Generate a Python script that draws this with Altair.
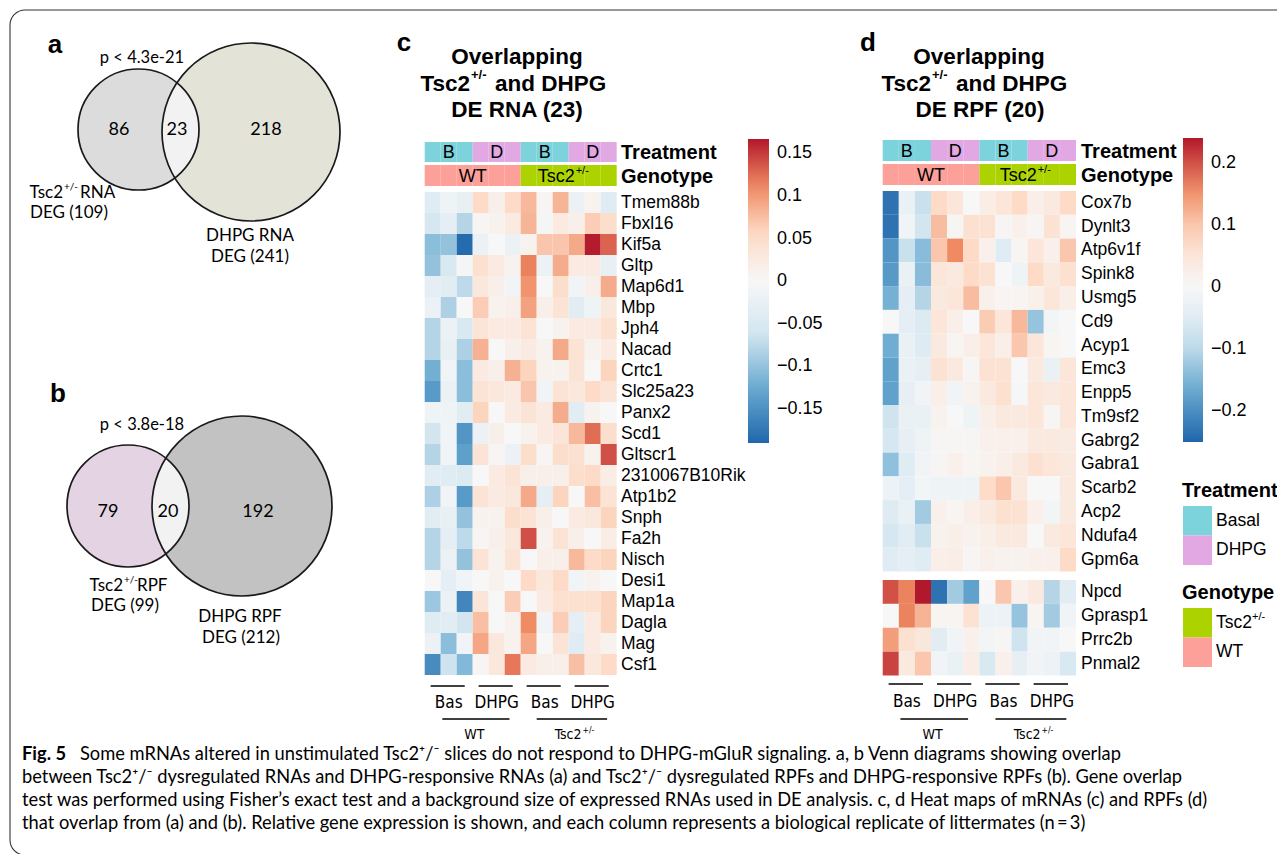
import math
import altair as alt
import pandas as pd

# ------------------------------------------------------------------ data
treatment_per_col = ["Basal"] * 3 + ["DHPG"] * 3 + ["Basal"] * 3 + ["DHPG"] * 3
genotype_per_col = ["WT"] * 6 + ["Tsc2"] * 6
treatment_abbrev = ["B", "D", "B", "D"]
group_mid_col = [1, 4, 7, 10]
below_labels = ["Bas", "DHPG", "Bas", "DHPG"]

venn_a_counts = ["86", "23", "218"]
venn_b_counts = ["79", "20", "192"]
venn_a_p = "p < 4.3e-21"
venn_b_p = "p < 3.8e-18"

rna_genes = ["Tmem88b", "Fbxl16", "Kif5a", "Gltp", "Map6d1", "Mbp", "Jph4", "Nacad",
             "Crtc1", "Slc25a23", "Panx2", "Scd1", "Gltscr1", "2310067B10Rik", "Atp1b2",
             "Snph", "Fa2h", "Nisch", "Desi1", "Map1a", "Dagla", "Mag", "Csf1"]
rna_values = [
    [-0.040, -0.015, -0.025, 0.055, 0.015, 0.055, 0.080, 0.005, 0.082, -0.020, 0.010, -0.040],
    [-0.055, -0.030, -0.080, 0.005, 0.010, 0.025, 0.082, -0.005, 0.025, 0.015, 0.065, 0.050],
    [-0.105, -0.100, -0.185, -0.020, 0.000, -0.020, 0.010, 0.070, 0.070, 0.090, 0.165, 0.130],
    [-0.100, -0.050, -0.005, 0.045, 0.025, 0.010, 0.115, -0.020, 0.088, 0.025, 0.025, -0.025],
    [-0.030, -0.035, -0.075, 0.030, 0.015, -0.010, 0.105, 0.000, 0.050, -0.010, 0.015, 0.088],
    [-0.020, -0.085, 0.000, 0.065, 0.010, 0.015, 0.095, 0.015, 0.040, -0.035, -0.015, 0.030],
    [-0.080, -0.020, -0.050, 0.035, 0.025, 0.025, 0.040, 0.000, 0.010, 0.025, 0.025, 0.045],
    [-0.080, -0.025, -0.085, 0.085, 0.000, 0.015, 0.025, 0.010, 0.090, 0.040, 0.010, 0.025],
    [-0.120, -0.010, -0.105, 0.025, 0.015, 0.085, 0.060, 0.010, 0.010, 0.040, 0.000, 0.060],
    [-0.140, -0.020, -0.105, 0.040, 0.030, 0.025, 0.070, -0.010, 0.040, 0.030, 0.055, 0.040],
    [-0.015, -0.015, -0.035, 0.060, 0.000, 0.025, 0.040, 0.025, 0.088, -0.035, 0.010, 0.000],
    [-0.060, -0.010, -0.145, -0.020, 0.015, 0.000, 0.010, 0.025, 0.035, 0.080, 0.125, 0.050],
    [-0.080, -0.010, -0.135, 0.040, 0.005, -0.020, 0.050, 0.005, 0.050, 0.045, 0.010, 0.140],
    [-0.035, -0.040, -0.045, 0.000, 0.025, 0.040, 0.015, 0.015, 0.015, 0.050, 0.055, 0.020],
    [-0.085, -0.010, -0.140, 0.040, 0.025, 0.030, 0.090, -0.030, 0.060, 0.000, 0.075, 0.040],
    [-0.035, -0.025, -0.100, 0.010, 0.010, 0.050, 0.040, 0.015, 0.000, 0.025, 0.030, 0.060],
    [-0.080, -0.030, -0.075, 0.005, 0.015, 0.030, 0.140, 0.010, 0.040, 0.015, 0.000, 0.020],
    [-0.080, -0.020, -0.100, 0.040, 0.010, 0.040, 0.000, 0.015, 0.015, 0.080, 0.055, 0.060],
    [0.000, -0.030, -0.010, 0.000, 0.010, 0.000, 0.055, 0.030, 0.055, -0.010, 0.010, 0.000],
    [-0.095, -0.020, -0.160, 0.035, 0.000, 0.065, 0.000, 0.025, 0.045, 0.045, 0.045, 0.060],
    [-0.040, -0.035, -0.060, 0.075, 0.000, 0.010, 0.110, -0.010, 0.065, -0.030, 0.025, 0.060],
    [-0.020, -0.105, -0.010, 0.092, 0.030, 0.010, 0.092, 0.000, 0.040, -0.040, 0.025, 0.010],
    [-0.155, -0.065, -0.110, 0.005, 0.030, 0.120, 0.025, 0.015, 0.015, 0.075, 0.030, 0.055],
]

rpf_genes_top = ["Cox7b", "Dynlt3", "Atp6v1f", "Spink8", "Usmg5", "Cd9", "Acyp1", "Emc3",
                 "Enpp5", "Tm9sf2", "Gabrg2", "Gabra1", "Scarb2", "Acp2", "Ndufa4", "Gpm6a"]
rpf_values_top = [
    [-0.235, -0.030, -0.090, 0.080, 0.050, 0.000, 0.030, 0.050, 0.080, 0.025, 0.040, 0.080],
    [-0.235, -0.015, -0.080, 0.110, 0.005, 0.065, 0.060, 0.005, 0.020, 0.005, 0.060, 0.010],
    [-0.190, -0.090, -0.140, 0.100, 0.160, 0.080, 0.020, -0.050, 0.010, 0.050, 0.020, 0.100],
    [-0.185, -0.030, -0.140, 0.050, 0.040, 0.080, 0.060, 0.000, -0.020, 0.080, 0.040, 0.065],
    [-0.155, -0.040, -0.105, 0.040, 0.050, 0.110, 0.020, 0.010, 0.010, 0.020, 0.050, 0.025],
    [0.000, -0.040, -0.060, 0.050, 0.025, 0.000, 0.095, 0.050, 0.115, -0.130, -0.010, 0.000],
    [-0.160, -0.030, -0.055, 0.040, 0.010, 0.025, 0.050, 0.025, 0.100, 0.050, 0.010, 0.000],
    [-0.175, -0.030, -0.035, 0.060, 0.040, 0.005, 0.060, 0.060, 0.000, 0.040, -0.030, 0.050],
    [-0.175, -0.035, -0.015, 0.025, -0.015, 0.015, 0.040, 0.065, -0.005, 0.050, 0.040, 0.050],
    [-0.085, -0.030, -0.030, 0.015, 0.000, -0.020, 0.025, 0.040, 0.040, 0.050, 0.005, 0.050],
    [-0.075, -0.035, -0.020, 0.005, 0.005, 0.005, 0.020, 0.020, 0.020, 0.040, 0.040, 0.035],
    [-0.135, -0.050, -0.015, 0.005, 0.020, 0.010, 0.015, 0.025, 0.040, 0.065, 0.050, 0.040],
    [-0.025, -0.040, -0.010, -0.020, -0.020, -0.020, 0.075, 0.100, 0.040, 0.000, 0.000, 0.040],
    [-0.055, -0.030, -0.120, 0.020, 0.010, 0.025, 0.040, 0.065, 0.060, 0.020, -0.010, 0.040],
    [-0.075, -0.045, -0.090, 0.015, 0.025, 0.015, 0.025, 0.040, 0.040, 0.000, 0.040, 0.050],
    [-0.050, -0.040, -0.050, 0.025, 0.030, 0.005, 0.020, 0.015, 0.015, 0.020, 0.020, 0.080],
]
rpf_genes_bottom = ["Npcd", "Gprasp1", "Prrc2b", "Pnmal2"]
rpf_values_bottom = [
    [0.200, 0.165, 0.240, -0.235, -0.120, -0.175, 0.000, 0.100, 0.020, 0.040, -0.105, -0.045],
    [0.000, 0.165, 0.120, 0.010, 0.010, 0.060, -0.025, -0.025, -0.130, 0.010, -0.120, -0.015],
    [0.140, 0.065, 0.045, -0.045, -0.015, 0.020, -0.010, 0.005, -0.085, -0.015, -0.015, 0.000],
    [0.210, 0.040, 0.100, -0.015, -0.030, 0.030, -0.065, 0.020, -0.035, -0.015, -0.025, -0.065],
]

rna_color_ticks = [-0.15, -0.1, -0.05, 0, 0.05, 0.1, 0.15]
rpf_color_ticks = [-0.2, -0.1, 0, 0.1, 0.2]
rna_color_extent = [-0.19, 0.167]
rpf_color_extent = [-0.25, 0.24]

legend_treatment = ["Basal", "DHPG"]
legend_genotype = ["Tsc2", "WT"]

caption_first = "Fig. 5"
caption_lines = [
    "Some mRNAs altered in unstimulated Tsc2\u207a/\u207b slices do not respond to DHPG-mGluR signaling. a, b Venn diagrams showing overlap",
    "between Tsc2\u207a/\u207b dysregulated RNAs and DHPG-responsive RNAs (a) and Tsc2\u207a/\u207b dysregulated RPFs and DHPG-responsive RPFs (b). Gene overlap",
    "test was performed using Fisher\u2019s exact test and a background size of expressed RNAs used in DE analysis. c, d Heat maps of mRNAs (c) and RPFs (d)",
    "that overlap from (a) and (b). Relative gene expression is shown, and each column represents a biological replicate of littermates (n\u2009=\u20093)",
]

# ------------------------------------------------------------------ style / layout
OFF = 8
W, H = 1269, 846
F_HEAT = "Liberation Sans, Arial, sans-serif"
F_VENN = "Lato, Noto Sans, sans-serif"
F_NARROW = "Liberation Sans Narrow, DejaVu Sans Condensed, sans-serif"
F_CAP = "Lato, Noto Sans, sans-serif"
RDBU = ["#2166ac", "#67a9cf", "#d1e5f0", "#f7f7f7", "#fddbc7", "#ef8a62", "#b2182b"]
C_BAS, C_DHPG, C_TSC, C_WT = "#7dd3dc", "#e1a8e3", "#acd300", "#fda09a"
COLS = list(range(12))


def P(v):
    return v - OFF


def one():
    return pd.DataFrame({"k": [0]})


def txt(s, x, y, size, font=F_HEAT, weight="normal", align="left", style="normal", color="black"):
    return alt.Chart(pd.DataFrame({"t": [s]})).mark_text(
        align=align, baseline="middle", font=font, fontSize=size,
        fontWeight=weight, fontStyle=style, color=color,
    ).encode(x=alt.value(P(x)), y=alt.value(P(y)), text="t:N")


def rule(x1, x2, y, color="black", width=1.6):
    return alt.Chart(one()).mark_rule(color=color, strokeWidth=width).encode(
        x=alt.value(P(x1)), x2=alt.value(P(x2)), y=alt.value(P(y)))


def piecewise(ext):
    lo, hi = ext
    return [lo, lo * 2 / 3, lo / 3, 0, hi / 3, hi * 2 / 3, hi]


layers = []

# border
layers.append(alt.Chart(one()).mark_rect(fill="transparent", stroke="#333333", strokeWidth=1.1,
                                         cornerRadius=15).encode(
    x=alt.value(P(10)), x2=alt.value(P(1330)), y=alt.value(P(10)), y2=alt.value(P(855))))


# ------------------------------------------------------------------ Venn diagrams
def circle(cx, cy, r, fill=None, outline=False):
    if outline:
        m = alt.Chart(one()).mark_point(shape="circle", filled=False, fill="transparent",
                                        stroke="#1a1a1a", strokeWidth=1.7, size=(2 * r) ** 2, opacity=1)
    else:
        m = alt.Chart(one()).mark_point(shape="circle", filled=True, fill=fill, strokeWidth=0,
                                        size=(2 * r) ** 2, opacity=1)
    return m.encode(x=alt.value(P(cx)), y=alt.value(P(cy)))


def lens(c1, c2, fill):
    (x1, y1, r1), (x2, y2, r2) = c1, c2
    d = math.hypot(x2 - x1, y2 - y1)
    a = (r1 ** 2 - r2 ** 2 + d ** 2) / (2 * d)
    h = math.sqrt(max(r1 ** 2 - a ** 2, 0))
    ux, uy = (x2 - x1) / d, (y2 - y1) / d
    mx, my = x1 + a * ux, y1 + a * uy
    pA = (mx - h * uy, my + h * ux)
    pB = (mx + h * uy, my - h * ux)

    def arc(cx, cy, r, p, q, n=48):
        t1 = math.atan2(p[1] - cy, p[0] - cx)
        t2 = math.atan2(q[1] - cy, q[0] - cx)
        dt = t2 - t1
        while dt > math.pi:
            dt -= 2 * math.pi
        while dt < -math.pi:
            dt += 2 * math.pi
        return [(cx + r * math.cos(t1 + dt * k / n), cy + r * math.sin(t1 + dt * k / n)) for k in range(n + 1)]

    pts = arc(x1, y1, r1, pA, pB) + arc(x2, y2, r2, pB, pA)
    xs = [p[0] for p in pts]
    ys = [p[1] for p in pts]
    cx, cy = (min(xs) + max(xs)) / 2, (min(ys) + max(ys)) / 2
    U = max(max(xs) - min(xs), max(ys) - min(ys)) / 2
    path = "M" + " L".join(f"{(px - cx) / U:.4f},{(py - cy) / U:.4f}" for px, py in pts) + " Z"
    return alt.Chart(one()).mark_point(shape=path, filled=True, fill=fill, strokeWidth=0,
                                       size=(2 * U) ** 2, opacity=1).encode(
        x=alt.value(P(cx)), y=alt.value(P(cy)))


def venn(left, right, fills, lens_fill):
    return [circle(*right, fill=fills[1]), circle(*left, fill=fills[0]), lens(left, right, lens_fill),
            circle(*right, outline=True), circle(*left, outline=True)]


venn_a_left, venn_a_right = (138.5, 129.5, 60.5), (251.0, 132.0, 89.0)
venn_b_left, venn_b_right = (128.0, 506.0, 61.0), (242.0, 506.0, 90.0)
layers += venn(venn_a_left, venn_a_right, ("#dcdcdc", "#e3e3d8"), "#f2f2f2")
layers += venn(venn_b_left, venn_b_right, ("#e3d3e3", "#c2c2c2"), "#f2f2f2")

VS = 17
layers += [
    txt("a", 55, 45, 26, weight="bold", align="center"),
    txt(venn_a_p, 142, 58, 16.5, font=F_VENN, align="center"),
    txt(venn_a_counts[0], 119, 130, 18, font=F_VENN, align="center"),
    txt(venn_a_counts[1], 177, 130, 18, font=F_VENN, align="center"),
    txt(venn_a_counts[2], 266, 130, 18, font=F_VENN, align="center"),
    txt("Tsc2", 63, 193, VS, font=F_VENN, align="right"),
    txt("+/-", 64, 187, 10, font=F_VENN),
    txt("RNA", 80, 193, VS, font=F_VENN),
    txt("DEG (109)", 69, 213, VS, font=F_VENN, align="center"),
    txt("DHPG RNA", 250, 236, VS, font=F_VENN, align="center"),
    txt("DEG (241)", 250, 257, VS, font=F_VENN, align="center"),

    txt("b", 58, 394, 26, weight="bold", align="center"),
    txt(venn_b_p, 142, 425, 16.5, font=F_VENN, align="center"),
    txt(venn_b_counts[0], 108, 512, 18, font=F_VENN, align="center"),
    txt(venn_b_counts[1], 168, 512, 18, font=F_VENN, align="center"),
    txt(venn_b_counts[2], 258, 512, 18, font=F_VENN, align="center"),
    txt("Tsc2", 123, 586, VS, font=F_VENN, align="right"),
    txt("+/-", 124, 580, 10, font=F_VENN),
    txt("RPF", 137, 586, VS, font=F_VENN),
    txt("DEG (99)", 125, 606, VS, font=F_VENN, align="center"),
    txt("DHPG RPF", 240, 617, VS, font=F_VENN, align="center"),
    txt("DEG (212)", 241, 638, VS, font=F_VENN, align="center"),
]


# ------------------------------------------------------------------ heat maps
def xscale(x0, x1):
    return alt.Scale(domain=COLS, range=[P(x0), P(x1)], paddingInner=0, paddingOuter=0)


def heat(genes, values, x0, x1, y0, y1, ext, label_x, legend=None):
    df = pd.DataFrame([{"gene": g, "col": j, "value": v}
                       for g, row in zip(genes, values) for j, v in enumerate(row)])
    ys = alt.Scale(domain=genes, range=[P(y0), P(y1)], paddingInner=0, paddingOuter=0)
    cscale = alt.Scale(domain=piecewise(ext), range=RDBU, interpolate="rgb")
    if legend is not None:
        color = alt.Color("value:Q", scale=cscale, legend=legend)
    else:
        color = alt.Color("value:Q", scale=cscale, legend=None)
    cells = alt.Chart(df).mark_rect(strokeWidth=0).encode(
        x=alt.X("col:O", scale=xscale(x0, x1), axis=None),
        y=alt.Y("gene:N", scale=ys, axis=None),
        color=color)
    labels = alt.Chart(pd.DataFrame({"gene": genes})).mark_text(
        align="left", baseline="middle", font=F_HEAT, fontSize=17.5).encode(
        x=alt.value(P(label_x)), y=alt.Y("gene:N", scale=ys, axis=None), text="gene:N")
    return [cells, labels]


def colorbar(x, y, ticks, thick):
    return alt.Legend(orient="none", legendX=P(x), legendY=P(y), direction="vertical",
                      gradientLength=304, gradientThickness=thick, gradientStrokeWidth=0,
                      values=ticks, format="~g", labelFont=F_HEAT, labelFontSize=18,
                      labelColor="black", labelOffset=8, labelOverlap=False, padding=0, title=None)


def annotation(x0, x1, ty, gy, side_x, tsc_dx):
    xs = xscale(x0, x1)
    half = (x1 - x0) / 24.0
    df = pd.DataFrame({"col": COLS, "treatment": treatment_per_col, "genotype": genotype_per_col})
    gmid = P((gy[0] + gy[1]) / 2 + 1)
    return [
        alt.Chart(df).mark_rect(strokeWidth=0).encode(
            x=alt.X("col:O", scale=xs, axis=None), y=alt.value(P(ty[0])), y2=alt.value(P(ty[1])),
            color=alt.Color("treatment:N", scale=alt.Scale(domain=legend_treatment, range=[C_BAS, C_DHPG]),
                            legend=None)),
        alt.Chart(df).mark_rect(strokeWidth=0).encode(
            x=alt.X("col:O", scale=xs, axis=None), y=alt.value(P(gy[0])), y2=alt.value(P(gy[1])),
            color=alt.Color("genotype:N", scale=alt.Scale(domain=legend_genotype, range=[C_TSC, C_WT]),
                            legend=None)),
        alt.Chart(pd.DataFrame({"col": group_mid_col, "t": treatment_abbrev})).mark_text(
            align="center", baseline="middle", font=F_HEAT, fontSize=18).encode(
            x=alt.X("col:O", scale=xs, axis=None), y=alt.value(P((ty[0] + ty[1]) / 2 + 1)), text="t:N"),
        alt.Chart(pd.DataFrame({"col": [2], "t": ["WT"]})).mark_text(
            align="center", baseline="middle", font=F_HEAT, fontSize=18, dx=half).encode(
            x=alt.X("col:O", scale=xs, axis=None), y=alt.value(gmid), text="t:N"),
        alt.Chart(pd.DataFrame({"col": [8], "t": ["Tsc2"]})).mark_text(
            align="right", baseline="middle", font=F_HEAT, fontSize=18, dx=half + tsc_dx).encode(
            x=alt.X("col:O", scale=xs, axis=None), y=alt.value(gmid), text="t:N"),
        alt.Chart(pd.DataFrame({"col": [8], "t": ["+/-"]})).mark_text(
            align="left", baseline="middle", font=F_HEAT, fontSize=11, dx=half + tsc_dx + 1).encode(
            x=alt.X("col:O", scale=xs, axis=None), y=alt.value(gmid - 6), text="t:N"),
        txt("Treatment", side_x, (ty[0] + ty[1]) / 2 + 1, 20, weight="bold"),
        txt("Genotype", side_x, (gy[0] + gy[1]) / 2 + 1, 20, weight="bold"),
    ]


def below(x0, cell, y_line, y_txt, y_line2, y_txt2):
    out = []
    for g in range(4):
        gl = x0 + g * 3 * cell
        out.append(rule(gl + 0.37 * cell, gl + 2.5 * cell, y_line))
        out.append(txt(below_labels[g], gl + 1.5 * cell, y_txt, 17, font=F_NARROW, align="center"))
    out.append(rule(x0 + 1.1 * cell, x0 + 5.3 * cell, y_line2))
    out.append(rule(x0 + 7.0 * cell, x0 + 11.4 * cell, y_line2))
    out.append(txt("WT", x0 + 3.1 * cell, y_txt2, 14, font=F_NARROW, align="center"))
    out.append(txt("Tsc2", x0 + 9.8 * cell, y_txt2, 14, font=F_NARROW, align="right"))
    out.append(txt("+/-", x0 + 9.8 * cell + 1, y_txt2 - 5, 8.5, font=F_NARROW))
    return out


# panel c
CX0, CX1 = 424.7, 616.7
layers += [txt("c", 404, 43, 26, weight="bold", align="center"),
           txt("Overlapping", 517, 57, 22.5, weight="bold", align="center"),
           txt("Tsc2", 470, 84, 22.5, weight="bold", align="right"),
           txt("+/-", 471, 75, 13, weight="bold"),
           txt("and DHPG", 495, 84, 22.5, weight="bold"),
           txt("DE RNA (23)", 517, 110, 22.5, weight="bold", align="center")]
layers += annotation(CX0, CX1, (142, 162), (165, 186), 621, 6)
layers += heat(rna_genes, rna_values, CX0, CX1, 192, 675, rna_color_extent, 621,
               legend=colorbar(748, 139, rna_color_ticks, 21))
layers += below(CX0, 16.0, 686, 703, 719, 735)

# panel d
DX0, DX1 = 882.7, 1076.0
layers += [txt("d", 868, 43, 26, weight="bold", align="center"),
           txt("Overlapping", 979, 57, 22.5, weight="bold", align="center"),
           txt("Tsc2", 931, 84, 22.5, weight="bold", align="right"),
           txt("+/-", 932, 75, 13, weight="bold"),
           txt("and DHPG", 956, 84, 22.5, weight="bold"),
           txt("DE RPF (20)", 980, 110, 22.5, weight="bold", align="center")]
layers += annotation(DX0, DX1, (140, 161), (164, 185), 1081, 9)
layers += heat(rpf_genes_top, rpf_values_top, DX0, DX1, 191, 571.5, rpf_color_extent, 1081,
               legend=colorbar(1183, 138, rpf_color_ticks, 20))
layers += heat(rpf_genes_bottom, rpf_values_bottom, DX0, DX1, 580, 675.5, rpf_color_extent, 1081)
layers += below(DX0, 16.11, 684, 702, 719, 735)


# annotation legend (right)
def swatches(names, colors, y0, y1, labels):
    ys = alt.Scale(domain=names, range=[P(y0), P(y1)], paddingInner=0, paddingOuter=0)
    df = pd.DataFrame({"name": names, "label": labels})
    return [
        alt.Chart(df).mark_rect(strokeWidth=0).encode(
            x=alt.value(P(1183)), x2=alt.value(P(1212)), y=alt.Y("name:N", scale=ys, axis=None),
            color=alt.Color("name:N", scale=alt.Scale(domain=names, range=colors), legend=None)),
        alt.Chart(df).mark_text(align="left", baseline="middle", font=F_HEAT, fontSize=17.5).encode(
            x=alt.value(P(1216)), y=alt.Y("name:N", scale=ys, axis=None), text="label:N"),
    ]


layers.append(txt("Treatment", 1182, 491, 20, weight="bold"))
layers += swatches(legend_treatment, [C_BAS, C_DHPG], 506, 565, ["Basal", "DHPG"])
layers.append(txt("Genotype", 1182, 593, 20, weight="bold"))
layers += swatches(legend_genotype, [C_TSC, C_WT], 608, 667, ["Tsc2", "WT"])
layers.append(txt("+/-", 1252, 617, 11))

# caption
CAP = 18.3
layers.append(txt(caption_first, 22, 755, CAP, font=F_CAP, weight="bold"))
layers.append(txt(caption_lines[0], 80, 755, CAP, font=F_CAP))
for i, line in enumerate(caption_lines[1:]):
    layers.append(txt(line, 22, 778 + 23 * i, CAP, font=F_CAP))

chart = alt.layer(*layers).resolve_scale(x="independent", y="independent", color="independent").properties(
    width=W, height=H, autosize=alt.AutoSizeParams(type="none"), padding=0, background="white"
).configure_view(strokeWidth=0)

chart.save("out.html", embed_options={"renderer": "svg", "actions": False})
